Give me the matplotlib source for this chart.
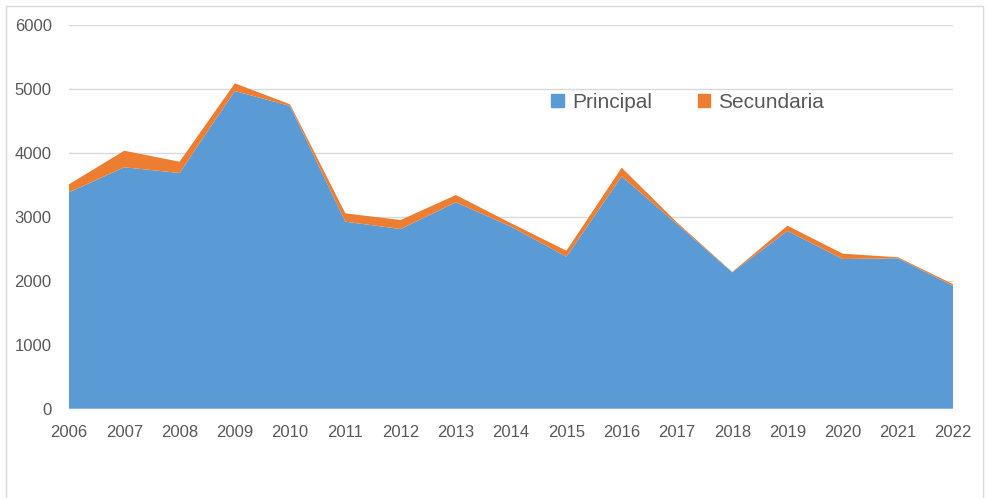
import numpy as np
from matplotlib import pyplot as plt
from matplotlib.patches import Rectangle, Patch

years = [2006, 2007, 2008, 2009, 2010, 2011, 2012, 2013, 2014,
         2015, 2016, 2017, 2018, 2019, 2020, 2021, 2022]
principal = [3381, 3772, 3683, 4964, 4730, 2922, 2808, 3225, 2844,
             2375, 3630, 2886, 2131, 2777, 2339, 2350, 1917]
secundaria = [125, 259, 176, 120, 26, 131, 140, 114, 53,
              94, 136, 26, 6, 82, 83, 16, 27]
yticks = [0, 1000, 2000, 3000, 4000, 5000, 6000]

blue = '#5B9BD5'
orange = '#ED7D31'
grey = '#595959'

plt.rcParams['font.family'] = ['Liberation Sans', 'DejaVu Sans']

fig = plt.figure(figsize=(9.88, 4.98), dpi=100)
ax = fig.add_axes([69/988, 1 - 408.7/498, (953.3-69)/988, (408.7-24.7)/498])

ax.stackplot(years, principal, secundaria, colors=[blue, orange], linewidth=0)

ax.set_xlim(years[0], years[-1])
ax.set_ylim(0, 6000)
ax.set_yticks(yticks)
ax.set_xticks(years)
ax.set_xticklabels([str(y) for y in years], fontsize=12)
ax.tick_params(axis='y', length=0, pad=12.5, labelsize=12, labelcolor=grey)
ax.tick_params(axis='x', length=0, pad=11.5, labelcolor=grey)
ax.grid(axis='y', color='#d9d9d9', linewidth=1)
ax.set_axisbelow(True)
for s in ax.spines.values():
    s.set_visible(False)

handles = [Patch(color=blue, label='Principal'), Patch(color=orange, label='Secundaria')]
fig.legend(handles=handles, loc='center left', bbox_to_anchor=(551/988, 1 - 102/498),
           ncol=2, frameon=False, fontsize=15, labelcolor=grey,
           handlelength=0.6, handleheight=0.6, handletextpad=0.4,
           columnspacing=2.2, borderpad=0, borderaxespad=0)

fig.patches.append(Rectangle((6/988, -0.1), (983-6)/988, 1.1 - 6/498,
                             transform=fig.transFigure, fill=False,
                             edgecolor='#d9d9d9', linewidth=1))

plt.savefig('out.png')
